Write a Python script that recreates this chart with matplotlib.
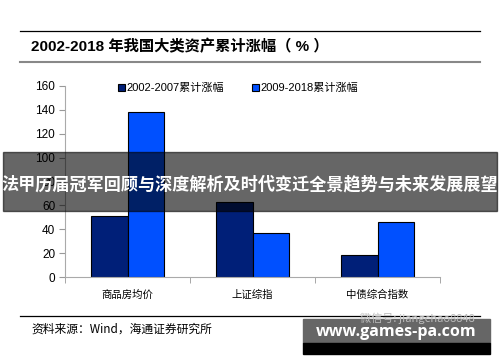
import numpy as np
import matplotlib.pyplot as plt
from matplotlib.patches import Rectangle

plt.rcParams['font.family'] = ['Liberation Sans', 'Noto Sans CJK SC', 'DejaVu Sans']

# Data
categories = ["商品房均价", "上证综指", "中债综合指数"]
series_names = ["2002-2007累计涨幅", "2009-2018累计涨幅"]
vals_0207 = [51.5, 63, 18.5]
vals_0918 = [138.5, 37, 46]
yticks = [0, 20, 40, 60, 80, 100, 120, 140, 160]

dark = "#001f78"
bright = "#0050ff"

fig = plt.figure(figsize=(5, 3.62), dpi=100)
ax = fig.add_axes([0.13, 1 - 277 / 362, 0.75, (277 - 86) / 362])

x = np.arange(len(categories))
w = 0.29
ax.bar(x - w / 2, vals_0207, w, color=dark, edgecolor="black", linewidth=0.8, label=series_names[0])
ax.bar(x + w / 2, vals_0918, w, color=bright, edgecolor="black", linewidth=0.8, label=series_names[1])

ax.set_xlim(-0.5, 2.5)
ax.set_ylim(0, 160)
ax.set_yticks(yticks)
ax.set_xticks(x)
ax.set_xticklabels(categories, fontsize=7.5, family=['Noto Sans CJK SC'])
ax.set_xticks([-0.5, 0.5, 1.5, 2.5], minor=True)
ax.tick_params(axis='x', which='major', length=0, pad=9)
ax.tick_params(axis='x', which='minor', length=4, color="#999999", direction="out")
ax.tick_params(axis='y', length=4, color="#999999", labelsize=8.5, pad=3)
for s in ["top", "right"]:
    ax.spines[s].set_visible(False)
for s in ["left", "bottom"]:
    ax.spines[s].set_color("#aaaaaa")

leg = ax.legend(loc="upper left", bbox_to_anchor=(0.13, 1.04), ncol=2, frameon=False,
                fontsize=8, handlelength=0.6, handleheight=0.6, handletextpad=0.1,
                columnspacing=2.6, borderaxespad=0)
for t in leg.get_texts():
    t.set_family(['Liberation Sans', 'Noto Sans CJK SC'])

# title block
fig.add_artist(plt.Line2D([20 / 500, 480 / 500], [1 - 31 / 362] * 2, color="black", lw=0.9))
fig.add_artist(plt.Line2D([20 / 500, 480 / 500], [1 - 62 / 362] * 2, color="#888888", lw=1.5))
fig.text(31 / 500, 1 - 47 / 362, "2002-2018 年我国大类资产累计涨幅（ % ）", fontsize=11,
         fontweight="bold", va="center", ha="left")

# source block
fig.add_artist(plt.Line2D([20 / 500, 480 / 500], [1 - 316 / 362] * 2, color="black", lw=0.9))
fig.text(31 / 500, 1 - 329 / 362, "资料来源：Wind，海通证券研究所", fontsize=8.5,
         va="center", ha="left", family=['Noto Sans CJK SC'])

# overlay banner
fig.add_artist(Rectangle((3 / 500, 1 - 211 / 362), 494 / 500, 59 / 362,
                         transform=fig.transFigure, color="black", alpha=0.6, zorder=10))
fig.text(0.5, 1 - 184 / 362, "法甲历届冠军回顾与深度解析及时代变迁全景趋势与未来发展展望",
         fontsize=12.3, fontweight="bold", color="white", ha="center", va="center",
         family=['Noto Sans CJK SC'], zorder=11)

# watermark
fig.add_artist(Rectangle((303 / 500, 1 - 343 / 362), 187 / 500, 24 / 362,
                         transform=fig.transFigure, color="#666666", zorder=10))
fig.add_artist(Rectangle((303 / 500, 1 - 354 / 362), 187 / 500, 11 / 362,
                         transform=fig.transFigure, color="black", zorder=10))
fig.text(360 / 500, 1 - 318 / 362, "微信号: jiangchao8848", fontsize=8, color="#bbbbbb",
         ha="left", va="center", family=['Noto Sans CJK SC'], zorder=11)
fig.text(396 / 500, 1 - 332 / 362, "www.games-pa.com", fontsize=11.5, fontweight="bold",
         color="white", ha="center", va="center", family=['Open Sans'], zorder=11)

fig.savefig("out.png", dpi=100)
